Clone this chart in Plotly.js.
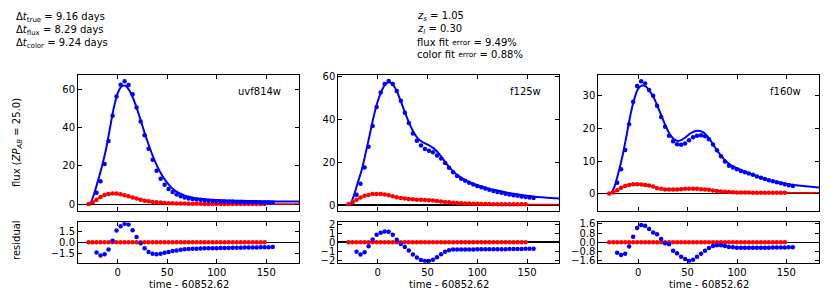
<!DOCTYPE html>
<html>
<head>
<meta charset="utf-8">
<script src="https://cdn.plot.ly/plotly-3.0.1.min.js"></script>
<style>html,body{margin:0;padding:0;background:#fff;} #chart{width:830px;height:302px;}</style>
</head>
<body>
<div id="chart"></div>
<script>
// ---------- data ----------
const bands = ["uvf814w", "f125w", "f160w"];

// observation epochs (days relative to 60852.62)
const blueT = [-21.3,-17.3,-13.2,-9.2,-5.1,-1.1,3.0,7.0,11.0,15.1,19.1,23.2,27.2,31.2,35.3,39.3,43.4,47.4,51.4,55.5,59.5,63.6,67.6,71.6,75.7,79.7,83.8,87.8,91.8,95.9,99.9,104.0,108.0,112.0,116.1,120.1,124.2,128.2,132.2,136.3,140.3,144.4,148.4,152.4,156.5];
const redT = [-29.4,-25.3,-21.3,-17.3,-13.2,-9.2,-5.1,-1.1,3.0,7.0,11.0,15.1,19.1,23.2,27.2,31.2,35.3,39.3,43.4,47.4,51.4,55.5,59.5,63.6,67.6,71.6,75.7,79.7,83.8,87.8,91.8,95.9,99.9,104.0,108.0,112.0,116.1,120.1,124.2,128.2,132.2,136.3,140.3,144.4,148.4];
// model curve epochs
const modelT = [-30,-28,-24,-20,-16,-12,-8,-4,0,4,8,12,16,20,24,28,32,36,40,44,48,52,56,60,64,68,72,76,80,84,88,92,96,100,110,120,130,140,150,160,170,183];

// uvf814w
const flux1 = [6.0,12.0,21.0,33.0,46.2,56.2,62.3,64.2,62.2,57.3,50.5,43.2,36.0,29.0,23.2,17.5,13.3,10.2,8.0,6.4,5.1,4.2,3.5,3.0,2.8,2.5,2.3,2.1,1.9,1.75,1.6,1.5,1.4,1.35,1.3,1.25,1.2,1.15,1.1,1.05,1.0,0.95,0.9,0.9,0.85];
const model1 = [0,0,5,12,19.5,28,39,50,57.8,61.5,61.8,59.2,54.8,49,42.5,36,30,24.5,19.8,15.8,12.6,10.0,8.0,6.5,5.4,4.5,3.9,3.4,3.0,2.8,2.6,2.4,2.3,2.2,2.0,1.85,1.75,1.65,1.55,1.5,1.45,1.4];
const color1 = [0.2,1.0,2.4,3.8,4.9,5.4,5.6,5.6,5.2,4.7,4.2,3.5,3.0,2.4,1.9,1.6,1.2,1.0,0.9,0.7,0.6,0.5,0.45,0.4,0.35,0.3,0.3,0.25,0.25,0.2,0.2,0.2,0.2,0.2,0.2,0.15,0.15,0.15,0.15,0.15,0.15,0.15,0.15,0.15,0.15];
const colorModel1 = [0.1,0.4,1.4,2.9,4.2,5.1,5.5,5.6,5.5,5.1,4.6,4.0,3.4,2.8,2.3,1.85,1.5,1.2,1.0,0.85,0.7,0.6,0.5,0.45,0.4,0.35,0.3,0.3,0.25,0.25,0.2,0.2,0.2,0.2,0.2,0.15,0.15,0.15,0.15,0.15,0.15,0.15];
const resid1 = [-1.35,-1.75,-1.6,-0.95,0.22,1.57,2.15,2.5,2.38,1.6,0.72,-0.13,-0.8,-1.3,-1.52,-1.6,-1.52,-1.4,-1.3,-1.17,-1.08,-1.0,-0.94,-0.9,-0.87,-0.85,-0.83,-0.81,-0.8,-0.79,-0.78,-0.77,-0.76,-0.75,-0.74,-0.73,-0.72,-0.71,-0.7,-0.69,-0.68,-0.67,-0.66,-0.65,-0.64];

// f125w
const flux2 = [4.8,10.0,17.5,27.2,37.0,45.8,52.6,56.6,58.0,56.6,53.3,48.8,43.1,38.3,33.5,30.0,27.8,26.2,25.4,24.7,23.1,21.7,19.7,17.4,15.3,13.6,12.3,11.3,10.4,9.6,8.9,8.3,7.7,7.1,6.6,6.1,5.7,5.3,4.9,4.6,4.3,4.0,3.7,3.5,3.3];
const model2 = [0,0,4.3,10.5,16.5,24.5,33,41.5,48.5,53.5,56.6,57.4,55.8,52.3,47.5,42.5,37.8,34,31.3,29.7,28.7,27.8,26.6,24.8,22.5,20,17.6,15.6,14.0,12.7,11.6,10.7,10.0,9.3,7.9,6.8,5.8,5.0,4.3,3.8,3.4,3.0];
const color2 = [0.3,1.3,2.5,3.5,4.3,4.7,5.1,5.1,5.1,4.9,4.6,4.1,3.6,3.3,3.0,2.8,2.7,2.5,2.5,2.4,2.2,2.1,1.9,1.6,1.4,1.3,1.1,0.9,0.8,0.7,0.65,0.6,0.55,0.5,0.45,0.45,0.4,0.4,0.35,0.35,0.3,0.3,0.3,0.3,0.3];
const colorModel2 = [0.2,0.6,1.7,2.8,3.8,4.5,4.9,5.1,5.1,5.0,4.8,4.5,4.0,3.55,3.25,3.0,2.8,2.65,2.55,2.5,2.4,2.2,2.05,1.85,1.6,1.4,1.25,1.1,0.9,0.8,0.7,0.65,0.6,0.55,0.45,0.4,0.32,0.3,0.28,0.26,0.25,0.24];
const resid2 = [-1.07,-1.37,-1.1,-0.44,0.3,0.81,1.04,1.18,1.15,0.81,0.26,-0.19,-0.52,-0.93,-1.37,-1.7,-1.96,-2.07,-2.07,-1.93,-1.67,-1.33,-1.07,-0.89,-0.81,-0.8,-0.8,-0.8,-0.8,-0.8,-0.79,-0.79,-0.78,-0.78,-0.78,-0.77,-0.77,-0.77,-0.76,-0.76,-0.75,-0.75,-0.74,-0.74,-0.73];

// f160w
const flux3 = [3.4,7.5,13.4,21.3,28.2,33.0,34.5,33.8,31.8,30.0,27.0,23.5,20.5,17.8,16.1,15.2,15.0,15.4,16.4,17.3,17.8,17.9,17.6,16.7,15.1,13.3,11.5,9.9,8.6,8.0,7.5,7.0,6.6,6.2,5.8,5.3,4.9,4.5,4.1,3.8,3.5,3.2,2.9,2.6,2.4];
const model3 = [0,0,2.2,6.5,11.5,17.5,24,29,32.2,33.2,32.8,31.3,29.3,26.5,23.5,20.6,18.2,16.8,16.2,16.5,17.3,18.3,19.0,19.3,19.1,18.3,16.9,15.0,13.2,11.6,10.2,9.2,8.4,7.8,6.5,5.4,4.4,3.6,3.0,2.6,2.3,1.9];
const color3 = [0.1,0.4,1.1,1.8,2.4,2.7,2.9,2.9,2.8,2.7,2.5,2.2,1.7,1.5,1.3,1.3,1.3,1.3,1.4,1.5,1.5,1.5,1.5,1.4,1.3,1.2,1.0,0.8,0.7,0.6,0.5,0.45,0.4,0.4,0.35,0.35,0.3,0.3,0.3,0.3,0.3,0.3,0.3,0.3,0.3];
const colorModel3 = [0.05,0.2,0.6,1.35,2.0,2.5,2.8,2.9,2.9,2.8,2.65,2.45,2.1,1.7,1.45,1.3,1.3,1.3,1.3,1.4,1.5,1.5,1.5,1.5,1.4,1.3,1.2,1.0,0.8,0.7,0.6,0.5,0.45,0.4,0.35,0.3,0.3,0.3,0.3,0.3,0.3,0.3];
const resid3 = [-0.89,-1.1,-0.98,-0.35,0.49,1.24,1.5,1.44,1.15,0.84,0.69,0.29,-0.09,-0.17,-0.72,-0.95,-1.24,-1.44,-1.61,-1.5,-1.24,-0.98,-0.72,-0.49,-0.32,-0.26,-0.26,-0.32,-0.4,-0.43,-0.46,-0.47,-0.47,-0.47,-0.47,-0.47,-0.46,-0.46,-0.46,-0.45,-0.45,-0.44,-0.44,-0.43,-0.43];

// colour residuals (all on zero)
const colorResid = [0,0,0,0,0,0,0,0,0,0,0,0,0,0,0,0,0,0,0,0,0,0,0,0,0,0,0,0,0,0,0,0,0,0,0,0,0,0,0,0,0,0,0,0,0];

// axis ticks
const timeTicks = [0, 50, 100, 150];
const fluxTicks = [[0,20,40,60],[0,20,40,60],[0,10,20,30]];
const residTicks = [[-1.5,0,1.5],[-2,-1,0,1,2],[-1.6,-0.8,0,0.8,1.6]];
const residFmt = [".1f", "d", ".1f"];

// annotation texts
const leftText = ["Δ<i>t</i><sub>true</sub> = 9.16 days", "Δ<i>t</i><sub>flux</sub> = 8.29 days", "Δ<i>t</i><sub>color</sub> = 9.24 days"];
const midText = ["<i>z</i><sub><i>s</i></sub> = 1.05", "<i>z</i><sub><i>l</i></sub> = 0.30", "flux fit <span style=\"font-size:7.5px;baseline-shift:1.5px\">error</span> = 9.49%", "color fit <span style=\"font-size:7.5px;baseline-shift:1.5px\">error</span> = 0.88%"];

// ---------- layout geometry ----------
const W = 830, H = 302;
const xDom = [[78/W, 299/W], [338.3/W, 559/W], [598.3/W, 819/W]];
const mainDom = [1-211/H, 1-75/H];
const resDom = [1-262.7/H, 1-222.3/H];
const xRange = [[-40,183],[-39.6,182],[-40.4,183]];
const yRange = [[-3.5,67.4],[-2.8,60.8],[-5.3,36.4]];
const rRange = [[-2.73,2.68],[-2.27,2.2],[-1.76,1.73]];

const fluxes = [flux1, flux2, flux3];
const models = [model1, model2, model3];
const colors = [color1, color2, color3];
const colorModels = [colorModel1, colorModel2, colorModel3];
const resids = [resid1, resid2, resid3];

const BLUE = "#0000ff", RED = "#ff0000";
const traces = [];
const layout = {
  width: W, height: H,
  margin: {l:0, r:0, t:0, b:0},
  paper_bgcolor: "#fff", plot_bgcolor: "#fff",
  font: {family: "DejaVu Sans, sans-serif", size: 10, color: "#000"},
  showlegend: false,
  annotations: []
};

function axisBase() {
  return {
    showline: true, linecolor: "#000", linewidth: 1, mirror: "ticks",
    ticks: "inside", ticklen: 4, tickwidth: 1, tickcolor: "#000",
    showgrid: false, zeroline: false, fixedrange: true,
    tickfont: {family: "DejaVu Sans, sans-serif", size: 10, color: "#000"}
  };
}

for (let i = 0; i < 3; i++) {
  const m = i + 1, r = i + 4;
  const xa = "x" + m, ya = "y" + m, xr = "x" + r, yr = "y" + r;
  // model lines
  traces.push({x: modelT, y: colorModels[i], xaxis: xa, yaxis: ya, mode: "lines", line: {color: RED, width: 1.5, shape: "spline", smoothing: 0.6}, hoverinfo: "skip"});
  traces.push({x: modelT, y: models[i], xaxis: xa, yaxis: ya, mode: "lines", line: {color: BLUE, width: 2, shape: "spline", smoothing: 0.6}, hoverinfo: "skip"});
  // data
  traces.push({x: redT, y: colors[i], xaxis: xa, yaxis: ya, mode: "markers", marker: {color: RED, size: 4.5, symbol: "circle"}});
  traces.push({x: blueT, y: fluxes[i], xaxis: xa, yaxis: ya, mode: "markers", marker: {color: BLUE, size: 4.5, symbol: "circle"}});
  // residuals
  traces.push({x: redT, y: colorResid, xaxis: xr, yaxis: yr, mode: "markers", marker: {color: RED, size: 4.5, symbol: "circle"}});
  traces.push({x: blueT, y: resids[i], xaxis: xr, yaxis: yr, mode: "markers", marker: {color: BLUE, size: 4.5, symbol: "circle"}});

  const kx = i === 0 ? "xaxis" : "xaxis" + m;
  const ky = i === 0 ? "yaxis" : "yaxis" + m;
  layout[kx] = Object.assign(axisBase(), {domain: xDom[i], range: xRange[i], anchor: ya, tickvals: timeTicks, showticklabels: false});
  layout[ky] = Object.assign(axisBase(), {domain: mainDom, range: yRange[i], anchor: xa, tickvals: fluxTicks[i], zeroline: true, zerolinecolor: "#000", zerolinewidth: 1.5});
  layout["xaxis" + r] = Object.assign(axisBase(), {domain: xDom[i], range: xRange[i], anchor: yr, tickvals: timeTicks});
  layout["yaxis" + r] = Object.assign(axisBase(), {domain: resDom, range: rRange[i], anchor: xr, tickvals: residTicks[i], tickformat: residFmt[i], zeroline: true, zerolinecolor: "#000", zerolinewidth: 1.5});

  // x-axis title
  layout.annotations.push({xref: "paper", yref: "paper", x: (xDom[i][0] + xDom[i][1]) / 2, y: 1 - 284/H, xanchor: "center", yanchor: "middle", showarrow: false, text: "time - 60852.62"});
  // band label
  layout.annotations.push({xref: "paper", yref: "paper", x: xDom[i][1] - 16/W, y: 1 - 91/H, xanchor: "right", yanchor: "middle", showarrow: false, text: bands[i]});
}

// y titles
layout.annotations.push({xref: "paper", yref: "paper", x: 17/W, y: (mainDom[0] + mainDom[1]) / 2, xanchor: "center", yanchor: "middle", textangle: -90, showarrow: false, text: "flux (<i>ZP</i><sub><i>AB</i></sub> = 25.0)"});
layout.annotations.push({xref: "paper", yref: "paper", x: 17/W, y: 1 - 240/H, xanchor: "center", yanchor: "middle", textangle: -90, showarrow: false, text: "residual"});

// header text
const leftY = [18, 31, 44];
leftText.forEach((t, k) => layout.annotations.push({xref: "paper", yref: "paper", x: 14/W, y: 1 - leftY[k]/H, xanchor: "left", yanchor: "middle", showarrow: false, text: t}));
const midY = [16, 29, 42, 54];
midText.forEach((t, k) => layout.annotations.push({xref: "paper", yref: "paper", x: 415/W, y: 1 - midY[k]/H, xanchor: "left", yanchor: "middle", showarrow: false, text: t}));

Plotly.newPlot("chart", traces, layout, {staticPlot: true, displayModeBar: false});
</script>
</body>
</html>
